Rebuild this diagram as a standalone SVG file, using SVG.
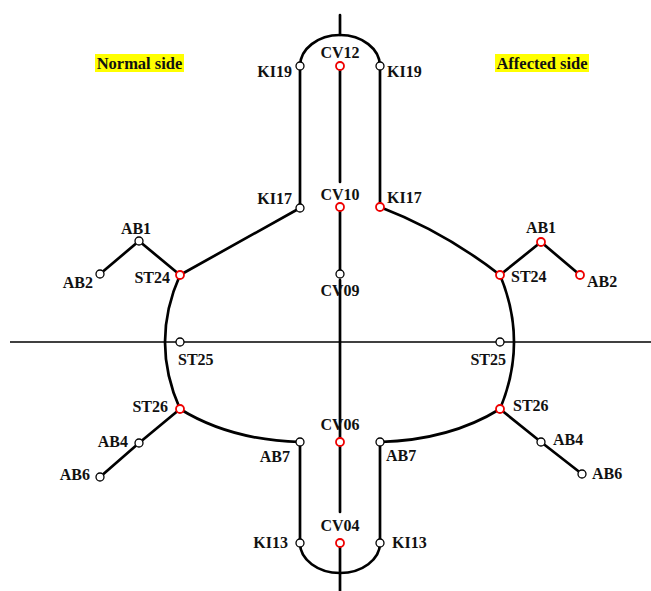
<svg xmlns="http://www.w3.org/2000/svg" width="651" height="591" viewBox="0 0 651 591">
<style>
.ln{fill:none;stroke:#000;stroke-width:2.7;stroke-linecap:round}
.ax{fill:none;stroke:#000;stroke-width:1.5}
.w{fill:#fff;stroke:#000;stroke-width:1.3}
.r{fill:#fff;stroke:#e00;stroke-width:1.8}
text{font-family:"Liberation Serif","Times New Roman",serif;font-weight:bold;font-size:16px;fill:#111}
.hd{font-size:16.5px}
</style>
<rect width="651" height="591" fill="#fff"/>
<g id="connectors">
<line class="ax" x1="10" y1="342" x2="651" y2="342"/>
<line class="ln" x1="340" y1="15" x2="340" y2="35"/>
<path class="ln" d="M300,66 A40,31 0 0 1 380,66"/>
<line class="ln" x1="340" y1="66" x2="340" y2="182"/>
<line class="ln" x1="340" y1="207" x2="340" y2="274"/>
<line class="ln" x1="340" y1="280" x2="340" y2="512"/>
<line class="ln" x1="340" y1="542" x2="340" y2="591"/>
<line class="ln" x1="300" y1="66" x2="300" y2="208"/>
<line class="ln" x1="380" y1="66" x2="380" y2="207"/>
<line class="ln" x1="300" y1="208" x2="180" y2="275"/>
<path class="ln" d="M380,207 Q445,232 500,275"/>
<polyline class="ln" points="100,274 139,241 180,275"/>
<polyline class="ln" points="580,275 541,242 500,275"/>
<path class="ln" d="M180,275 Q150,342 180,409"/>
<path class="ln" d="M500,275 Q528,342 500,409"/>
<polyline class="ln" points="100,477 139,443 180,409"/>
<polyline class="ln" points="582,474 541,442 500,409"/>
<path class="ln" d="M180,409 Q230,440 300,442"/>
<path class="ln" d="M500,409 Q450,440 380,442"/>
<line class="ln" x1="300" y1="442" x2="300" y2="543"/>
<line class="ln" x1="380" y1="442" x2="380" y2="543"/>
<path class="ln" d="M300,543 A40,30 0 0 0 380,543"/>
</g>
<g id="label-normal"><rect x="95" y="54" width="89" height="18" fill="#ff0"/><text class="hd" x="139.5" y="69" text-anchor="middle">Normal side</text></g>
<g id="label-affected"><rect x="495" y="54" width="94" height="18" fill="#ff0"/><text class="hd" x="542" y="69" text-anchor="middle">Affected side</text></g>
<g id="CV12"><circle class="r" cx="340" cy="66" r="4"/><text x="340" y="58" text-anchor="middle">CV12</text></g>
<g id="CV10"><circle class="r" cx="340" cy="207" r="4"/><text x="340" y="200" text-anchor="middle">CV10</text></g>
<g id="CV09"><circle class="w" cx="340" cy="274" r="4"/><text x="340" y="296" text-anchor="middle">CV09</text></g>
<g id="CV06"><circle class="r" cx="340" cy="442" r="4"/><text x="340" y="430" text-anchor="middle">CV06</text></g>
<g id="CV04"><circle class="r" cx="340" cy="543" r="4"/><text x="340" y="531" text-anchor="middle">CV04</text></g>
<g id="KI19-L"><circle class="w" cx="300" cy="66" r="4"/><text x="292" y="77" text-anchor="end">KI19</text></g>
<g id="KI19-R"><circle class="w" cx="380" cy="66" r="4"/><text x="387" y="77">KI19</text></g>
<g id="KI17-L"><circle class="w" cx="300" cy="208" r="4"/><text x="292" y="204" text-anchor="end">KI17</text></g>
<g id="KI17-R"><circle class="r" cx="380" cy="207" r="4"/><text x="387" y="203">KI17</text></g>
<g id="AB1-L"><circle class="w" cx="139" cy="241" r="4"/><text x="136" y="234" text-anchor="middle">AB1</text></g>
<g id="AB2-L"><circle class="w" cx="100" cy="274" r="4"/><text x="93" y="288" text-anchor="end">AB2</text></g>
<g id="ST24-L"><circle class="r" cx="180" cy="275" r="4"/><text x="170" y="283" text-anchor="end">ST24</text></g>
<g id="AB1-R"><circle class="r" cx="541" cy="242" r="4"/><text x="541" y="233" text-anchor="middle">AB1</text></g>
<g id="AB2-R"><circle class="r" cx="580" cy="275" r="4"/><text x="587" y="287">AB2</text></g>
<g id="ST24-R"><circle class="r" cx="500" cy="275" r="4"/><text x="511" y="282">ST24</text></g>
<g id="ST25-L"><circle class="w" cx="180" cy="342" r="4"/><text x="178" y="365">ST25</text></g>
<g id="ST25-R"><circle class="w" cx="500" cy="342" r="4"/><text x="506" y="365" text-anchor="end">ST25</text></g>
<g id="ST26-L"><circle class="r" cx="180" cy="409" r="4"/><text x="168" y="412" text-anchor="end">ST26</text></g>
<g id="AB4-L"><circle class="w" cx="139" cy="443" r="4"/><text x="128" y="447" text-anchor="end">AB4</text></g>
<g id="AB6-L"><circle class="w" cx="100" cy="477" r="4"/><text x="90" y="480" text-anchor="end">AB6</text></g>
<g id="AB7-L"><circle class="w" cx="300" cy="442" r="4"/><text x="290" y="462" text-anchor="end">AB7</text></g>
<g id="KI13-L"><circle class="w" cx="300" cy="543" r="4"/><text x="288" y="548" text-anchor="end">KI13</text></g>
<g id="ST26-R"><circle class="r" cx="500" cy="409" r="4"/><text x="513" y="411">ST26</text></g>
<g id="AB4-R"><circle class="w" cx="541" cy="442" r="4"/><text x="553" y="445">AB4</text></g>
<g id="AB6-R"><circle class="w" cx="582" cy="474" r="4"/><text x="592" y="479">AB6</text></g>
<g id="AB7-R"><circle class="w" cx="380" cy="442" r="4"/><text x="386" y="461">AB7</text></g>
<g id="KI13-R"><circle class="w" cx="380" cy="543" r="4"/><text x="392" y="548">KI13</text></g>
</svg>
